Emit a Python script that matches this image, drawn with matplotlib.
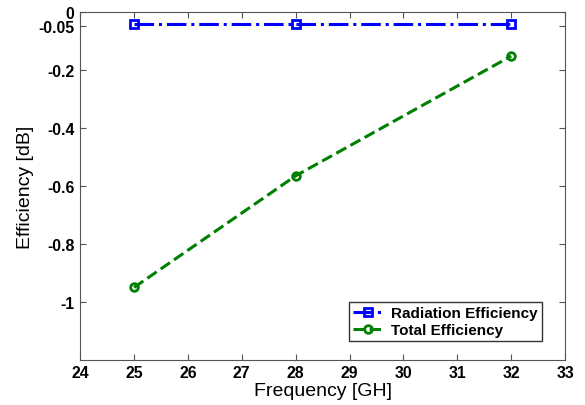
import matplotlib
matplotlib.use("Agg")
import matplotlib.pyplot as plt

freq = [25, 28, 32]
rad_eff = [-0.04, -0.04, -0.04]
tot_eff = [-0.95, -0.565, -0.152]

yticks = [0, -0.05, -0.2, -0.4, -0.6, -0.8, -1]
ytick_labels = ["0", "-0.05", "-0.2", "-0.4", "-0.6", "-0.8", "-1"]

plt.rcParams["font.family"] = "Liberation Sans"

fig = plt.figure(figsize=(5.85, 4.06), dpi=100)
ax = fig.add_axes([0.137, 0.111, 0.829, 0.857])

ax.plot(freq, rad_eff, color="#0000ff", linestyle="-.", linewidth=2.2,
        marker="s", markersize=5.5, markerfacecolor="none", markeredgewidth=2,
        label="Radiation Efficiency")
ax.plot(freq, tot_eff, color="#008000", linestyle="--", linewidth=2.2,
        marker="o", markersize=5.5, markerfacecolor="none", markeredgewidth=2,
        label="Total Efficiency")

ax.set_xlim(24, 33)
ax.set_ylim(-1.2, 0)
ax.set_xticks(range(24, 34))
ax.set_yticks(yticks)
ax.set_yticklabels(ytick_labels)
ax.tick_params(direction="in", length=4, top=True, right=True, labelsize=11.4,
               color="#555555", pad=4)
for lbl in ax.get_xticklabels() + ax.get_yticklabels():
    lbl.set_fontweight("bold")
for sp in ax.spines.values():
    sp.set_color("#555555")

ax.set_xlabel("Frequency [GH]", fontsize=14, labelpad=1)
ax.set_ylabel("Efficiency [dB]", fontsize=14, labelpad=3)

leg = ax.legend(loc="lower right", bbox_to_anchor=(0.952, 0.055),
                prop={"weight": "bold", "size": 11}, fancybox=False,
                edgecolor="#333333", framealpha=1, handlelength=2,
                handletextpad=0.5, borderpad=0.25, labelspacing=0.2,
                borderaxespad=0)
leg.get_frame().set_linewidth(1)

fig.savefig("out.png", dpi=100)
